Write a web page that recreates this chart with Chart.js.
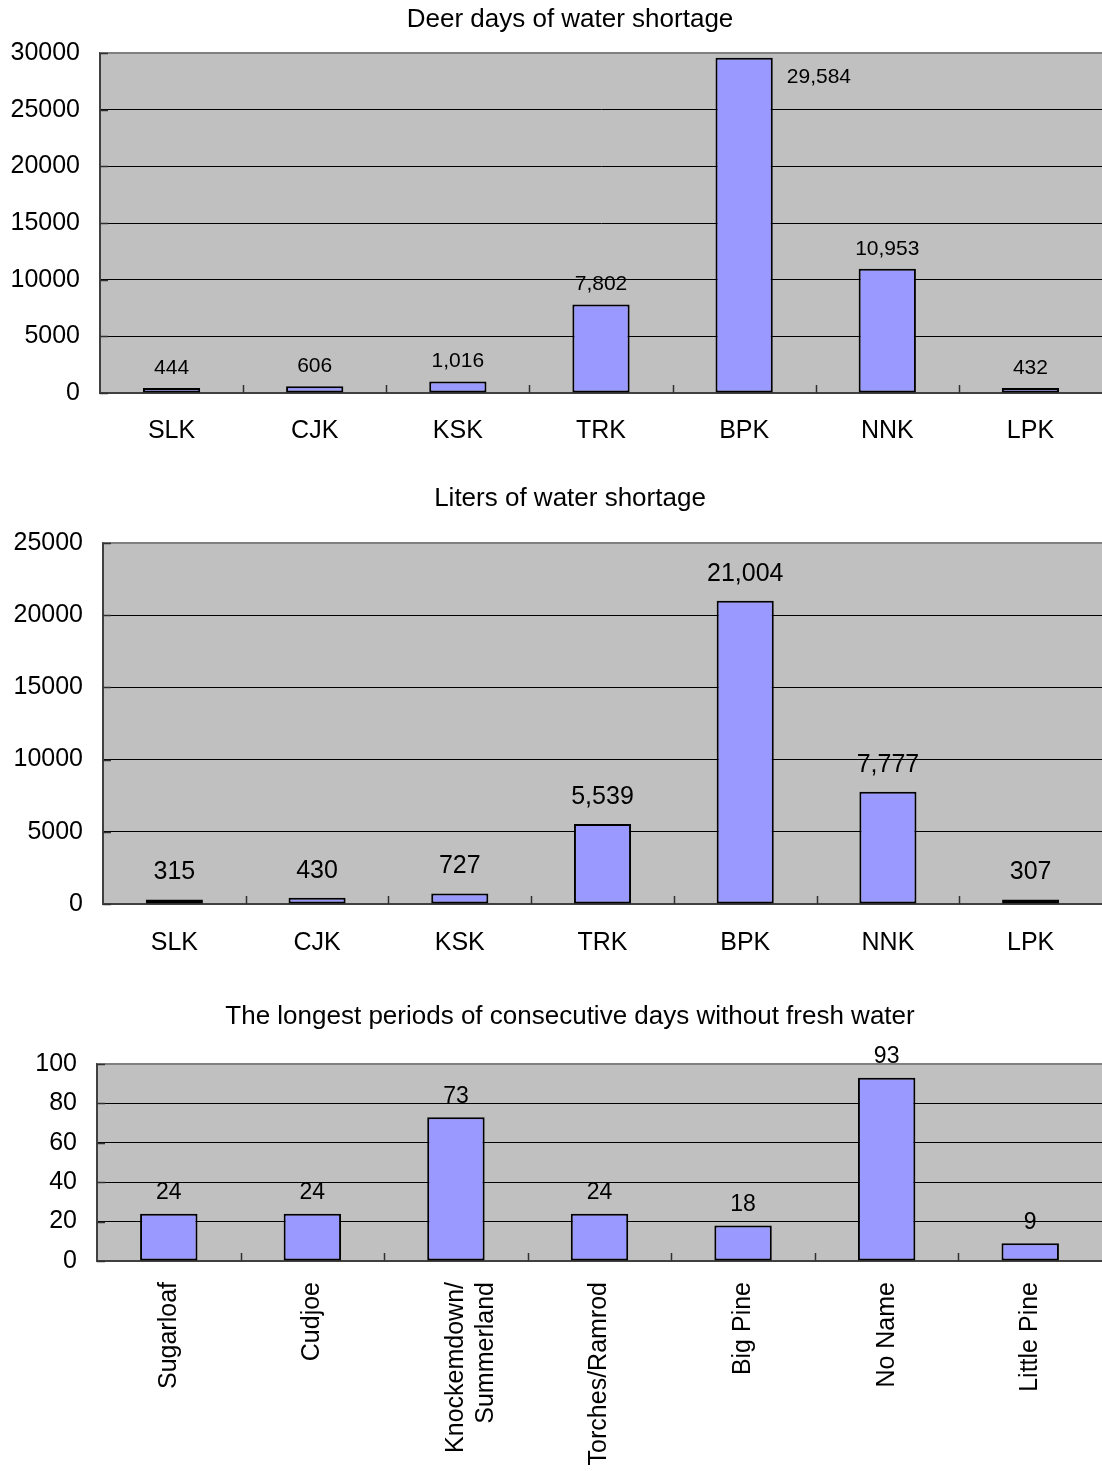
<!DOCTYPE html>
<html>
<head>
<meta charset="utf-8">
<title>Water shortage on the Keys</title>
<script src="https://cdn.jsdelivr.net/npm/chart.js@4.4.1/dist/chart.umd.min.js"></script>
<style>
  html, body { margin: 0; padding: 0; background: #ffffff; }
  body { width: 1102px; height: 1471px; position: relative; overflow: hidden; }
  canvas { position: absolute; left: 0; }
</style>
</head>
<body>
<canvas id="deerChart" width="1102" height="479" style="top:0px"></canvas>
<canvas id="litersChart" width="1102" height="518" style="top:479px"></canvas>
<canvas id="periodChart" width="1102" height="474" style="top:997px"></canvas>
<script>
// Island codes and names
const islandCodes = ['SLK', 'CJK', 'KSK', 'TRK', 'BPK', 'NNK', 'LPK'];
const islandNames = ['Sugarloaf', 'Cudjoe', ['Knockemdown/', 'Summerland'], 'Torches/Ramrod', 'Big Pine', 'No Name', 'Little Pine'];

// Deer days of water shortage
const deerDays = [444, 606, 1016, 7802, 29584, 10953, 432];
// Liters of water shortage
const litersShort = [315, 430, 727, 5539, 21004, 7777, 307];
// Longest run of consecutive days without fresh water
const longestDry = [24, 24, 73, 24, 18, 93, 9];

// Value axis ranges: [max, step]
const deerAxis = [30000, 5000];
const litersAxis = [25000, 5000];
const periodAxis = [100, 20];

const FONT = '"Liberation Sans", Arial, Helvetica, sans-serif';
Chart.defaults.font.family = FONT;
Chart.defaults.color = '#000000';

// Grey plot panel, heading, top edge, inward tick marks and value labels
const plotDecor = {
  id: 'plotDecor',
  beforeDraw(chart, args, o) {
    const { ctx, chartArea: a } = chart;
    ctx.save();
    ctx.fillStyle = '#C0C0C0';
    ctx.fillRect(a.left, a.top, a.right - a.left, a.bottom - a.top);
    ctx.font = '26px ' + FONT;
    ctx.fillStyle = '#000000';
    ctx.textAlign = 'center';
    ctx.textBaseline = 'middle';
    ctx.fillText(o.title, o.titleX, o.titleY);
    ctx.restore();
  },
  beforeDatasetsDraw(chart) {
    const { ctx, chartArea: a, scales: { x, y } } = chart;
    ctx.save();
    ctx.strokeStyle = '#808080';
    ctx.lineWidth = 2;
    ctx.beginPath();
    ctx.moveTo(a.left, a.top);
    ctx.lineTo(a.right, a.top);
    ctx.stroke();

    ctx.strokeStyle = '#303030';
    ctx.lineWidth = 1.5;
    y.ticks.forEach(t => {
      const py = Math.round(y.getPixelForValue(t.value)) + 0.5;
      ctx.beginPath();
      ctx.moveTo(a.left, py);
      ctx.lineTo(a.left + 8, py);
      ctx.stroke();
    });
    for (let i = 1; i < x.ticks.length; i++) {
      const px = Math.round((x.getPixelForValue(i - 1) + x.getPixelForValue(i)) / 2) + 0.5;
      ctx.beginPath();
      ctx.moveTo(px, a.bottom);
      ctx.lineTo(px, a.bottom - 8);
      ctx.stroke();
    }
    ctx.restore();
  },
  afterDatasetsDraw(chart, args, o) {
    const { ctx, chartArea: a } = chart;
    const meta = chart.getDatasetMeta(0);
    const values = chart.data.datasets[0].data;
    ctx.save();
    ctx.font = o.size + 'px ' + FONT;
    ctx.fillStyle = '#000000';
    ctx.textBaseline = 'middle';
    meta.data.forEach((bar, i) => {
      const txt = values[i].toLocaleString('en-US');
      let lx = bar.x;
      let ly = bar.y - o.offset;
      ctx.textAlign = 'center';
      if (o.side && ly - o.size / 2 < a.top) {
        ctx.textAlign = 'left';
        lx = bar.x + bar.width / 2 + 14;
        ly = bar.y + 19;
      }
      ctx.fillText(txt, lx, ly);
    });
    ctx.restore();
  }
};

function makeChart(id, cfg) {
  const [maxV, stepV] = cfg.axis;
  return new Chart(document.getElementById(id), {
    type: 'bar',
    data: {
      labels: cfg.labels,
      datasets: [{
        data: cfg.values,
        backgroundColor: '#9999FF',
        borderColor: '#000000',
        borderWidth: 2,
        borderSkipped: false,
        barPercentage: 0.4,
        categoryPercentage: 1.0
      }]
    },
    plugins: [plotDecor],
    options: {
      responsive: false,
      animation: false,
      devicePixelRatio: 1,
      layout: { padding: { top: cfg.topGap, left: 0, right: 0, bottom: 0 } },
      plugins: {
        legend: { display: false },
        tooltip: { enabled: false },
        title: { display: false },
        plotDecor: {
          title: cfg.title,
          titleX: 570,
          titleY: 20,
          size: cfg.labelSize,
          offset: cfg.labelOffset,
          side: cfg.side
        }
      },
      scales: {
        x: {
          grid: { display: false },
          border: { display: true, color: '#404040', width: 2 },
          ticks: {
            font: { size: 25 },
            color: '#000000',
            padding: cfg.xPad,
            autoSkip: false,
            minRotation: cfg.rotate,
            maxRotation: cfg.rotate
          },
          afterFit(s) { s.height = cfg.bottomH; }
        },
        y: {
          min: 0,
          max: maxV,
          grid: {
            color: c => (c.tick && (c.tick.value === 0 || c.tick.value === maxV)) ? 'rgba(0,0,0,0)' : '#000000',
            lineWidth: 1,
            drawTicks: false
          },
          border: { display: true, color: '#404040', width: 2 },
          ticks: {
            stepSize: stepV,
            font: { size: 25 },
            color: '#000000',
            padding: 20,
            callback: v => String(v)
          },
          afterFit(s) { s.width = cfg.leftW; }
        }
      }
    }
  });
}

makeChart('deerChart', {
  title: 'Deer days of water shortage',
  labels: islandCodes,
  values: deerDays,
  axis: deerAxis,
  topGap: 53,
  leftW: 100,
  bottomH: 86,
  xPad: 15,
  rotate: 0,
  labelSize: 21,
  labelOffset: 20,
  side: true
});

makeChart('litersChart', {
  title: 'Liters of water shortage',
  labels: islandCodes,
  values: litersShort,
  axis: litersAxis,
  topGap: 64,
  leftW: 103,
  bottomH: 93,
  xPad: 16,
  rotate: 0,
  labelSize: 25,
  labelOffset: 27,
  side: false
});

makeChart('periodChart', {
  title: 'The longest periods of consecutive days without fresh water',
  labels: islandNames,
  values: longestDry,
  axis: periodAxis,
  topGap: 67,
  leftW: 97,
  bottomH: 210,
  xPad: 13,
  rotate: 90,
  labelSize: 23,
  labelOffset: 21,
  side: false
});
</script>
</body>
</html>
